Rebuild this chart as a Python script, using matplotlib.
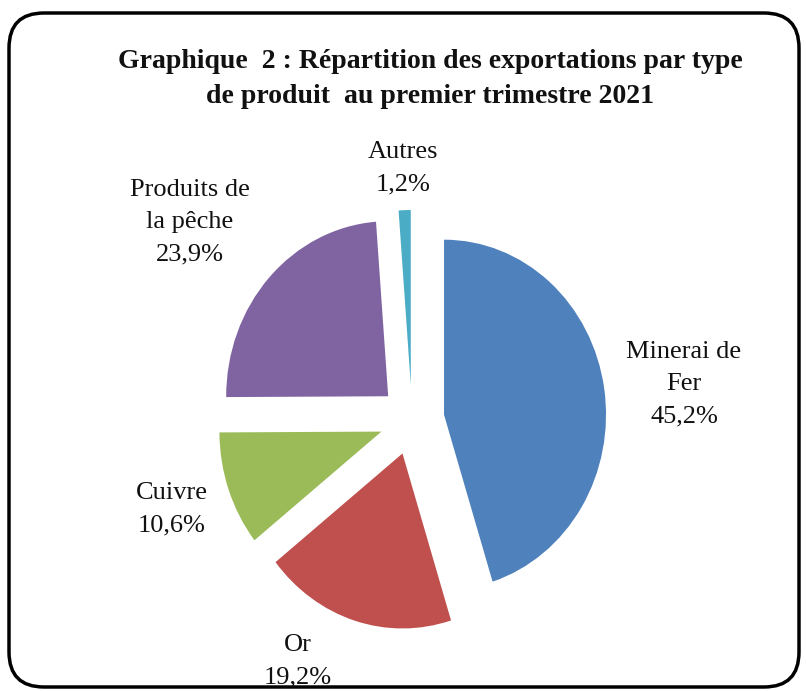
import matplotlib.pyplot as plt
from matplotlib.patches import FancyBboxPatch

# data
categories = ['Minerai de\nFer', 'Or', 'Cuivre', 'Produits de\nla pêche', 'Autres']
shares = [45.2, 19.2, 10.6, 23.9, 1.2]
share_labels = ['45,2%', '19,2%', '10,6%', '23,9%', '1,2%']
colors = ['#4F81BD', '#C0504D', '#9BBB59', '#8064A2', '#4BACC6']

W, H = 806, 691
fig = plt.figure(figsize=(W / 100, H / 100), dpi=100)
fig.patch.set_facecolor('white')

# pie axes: 1 unit = 162 px across, 175 px up
cx, cy = 412, H - 420
rx, ry = 162, 175
lim = 1.3
ax = fig.add_axes([(cx - lim * rx) / W, (cy - lim * ry) / H,
                   2 * lim * rx / W, 2 * lim * ry / H])
ax.pie(shares, colors=colors, startangle=90, counterclock=False,
       explode=[0.2] * len(shares), wedgeprops=dict(linewidth=0))
ax.set_aspect('auto')
ax.set_xlim(-lim, lim)
ax.set_ylim(-lim, lim)
ax.axis('off')

# label positions (figure pixels, top-left origin)
label_pos = [(684, 384), (298, 661), (172, 509), (190, 222), (403, 168)]
for name, pct, (x, y) in zip(categories, share_labels, label_pos):
    fig.text(x / W, 1 - y / H, name + '\n' + pct, ha='center', va='center',
             fontsize=19, family='Liberation Serif', linespacing=1.6,
             color='#111111')

fig.text(430 / W, 1 - 79 / H,
         'Graphique  2 : Répartition des exportations par type\n'
         'de produit  au premier trimestre 2021',
         ha='center', va='center', fontsize=20, fontweight='bold',
         family='Liberation Serif', linespacing=1.55, color='#111111')

# rounded frame, in inches
border = FancyBboxPatch((0.09, 0.04), 7.9, 6.74,
                        boxstyle='round,pad=0,rounding_size=0.35',
                        transform=fig.dpi_scale_trans, fill=False,
                        edgecolor='black', linewidth=2.5)
fig.patches.append(border)

fig.savefig('out.png', dpi=100, facecolor='white')
